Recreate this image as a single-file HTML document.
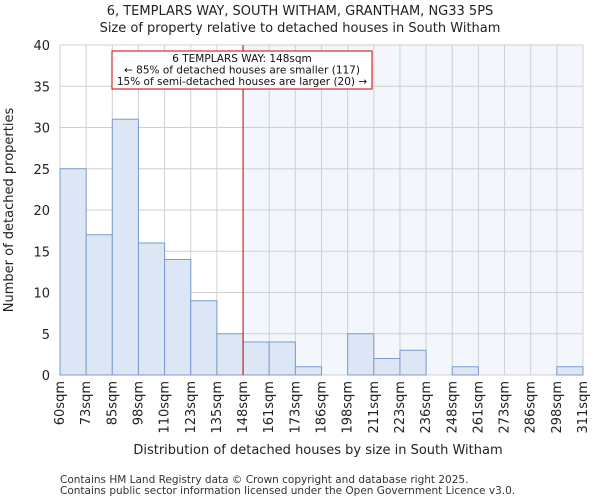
<!DOCTYPE html>
<html><head><meta charset="utf-8"><style>
body{margin:0;background:#fff;font-family:"DejaVu Sans","Liberation Sans",sans-serif;}
</style></head><body>
<svg id="chart" width="600" height="500" xmlns="http://www.w3.org/2000/svg" font-family="DejaVu Sans, Liberation Sans, sans-serif">
<text x="300" y="15" text-anchor="middle" font-size="13" fill="#222">6, TEMPLARS WAY, SOUTH WITHAM, GRANTHAM, NG33 5PS</text>
<text x="300" y="32" text-anchor="middle" font-size="13" fill="#222">Size of property relative to detached houses in South Witham</text>
<g id="plot"></g>
<text x="318" y="454" text-anchor="middle" font-size="13" fill="#222">Distribution of detached houses by size in South Witham</text>
<text transform="translate(13,210) rotate(-90)" text-anchor="middle" font-size="13" fill="#222">Number of detached properties</text>
<text x="60" y="483" font-size="10.5" fill="#333">Contains HM Land Registry data © Crown copyright and database right 2025.</text>
<text x="60" y="494" font-size="10.5" fill="#333">Contains public sector information licensed under the Open Government Licence v3.0.</text>
</svg>
<script>
const categories=["60sqm","73sqm","85sqm","98sqm","110sqm","123sqm","135sqm","148sqm","161sqm","173sqm","186sqm","198sqm","211sqm","223sqm","236sqm","248sqm","261sqm","273sqm","286sqm","298sqm","311sqm"];
const counts=[25,17,31,16,14,9,5,4,4,1,0,5,2,3,0,1,0,0,0,1];
const yTicks=[0,5,10,15,20,25,30,35,40];
const markerIndex=7;
const NS="http://www.w3.org/2000/svg";
const L=60,R=583,T=45,B=375,yMax=40;
const bw=(R-L)/counts.length;
const x=i=>L+i*bw;
const y=v=>B-(B-T)*v/yMax;
const g=document.getElementById('plot');
function mk(t,a){const e=document.createElementNS(NS,t);for(const k in a)e.setAttribute(k,a[k]);g.appendChild(e);return e;}
let e=mk('rect',{x:x(markerIndex),y:T,width:R-x(markerIndex),height:B-T,fill:'#f3f6fd'});


for(let i=0;i<=counts.length;i++){e=mk('line',{x1:x(i),x2:x(i),y1:T,y2:B,stroke:'#d0d0d0','stroke-width':1});

}
yTicks.forEach(t=>{e=mk('line',{x1:L,x2:R,y1:y(t),y2:y(t),stroke:'#d0d0d0','stroke-width':1});


e=mk('text',{x:L-10,y:y(t)+5,'text-anchor':'end','font-size':13,fill:'#222'});e.textContent=t;

});
counts.forEach((c,i)=>{if(c<=0)return;e=mk('rect',{x:x(i),y:y(c),width:bw,height:B-y(c),fill:'#dce6f5',stroke:'#7d9bcf','stroke-width':1});

});
categories.forEach((c,i)=>{const px=x(i)+4;e=mk('text',{x:px,y:381,'text-anchor':'end','font-size':13,fill:'#222',transform:`rotate(-90 ${px} 381)`});e.textContent=c;

});
e=mk('line',{x1:x(markerIndex),x2:x(markerIndex),y1:T,y2:B,stroke:'#cc0000','stroke-width':1});


e=mk('rect',{x:112,y:51,width:260,height:38,fill:'#fff',stroke:'#cc0000','stroke-width':1});


["6 TEMPLARS WAY: 148sqm","← 85% of detached houses are smaller (117)","15% of semi-detached houses are larger (20) →"].forEach((s,k)=>{e=mk('text',{x:242,y:62+k*11.5,'text-anchor':'middle','font-size':10.5,fill:'#111'});e.textContent=s;

});
</script>
</body></html>
